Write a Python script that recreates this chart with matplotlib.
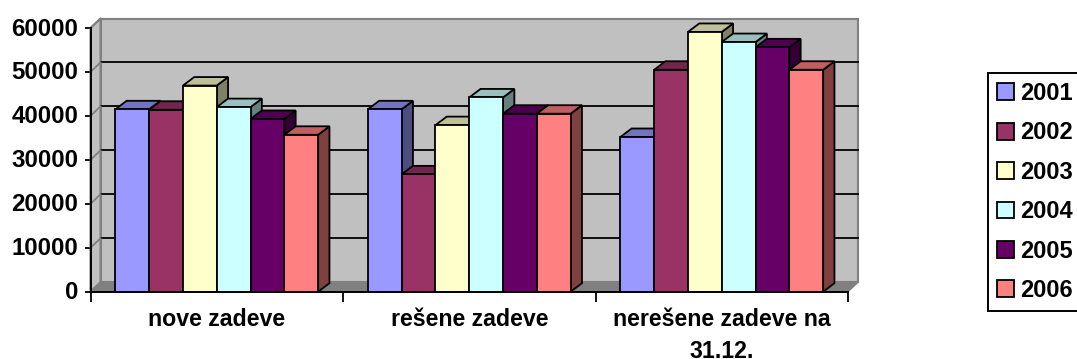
import numpy as np
import matplotlib
matplotlib.use("Agg")
import matplotlib.pyplot as plt
from matplotlib.transforms import ScaledTranslation

plt.rcParams['font.family'] = ['Liberation Sans', 'DejaVu Sans']
plt.rcParams['font.weight'] = 'bold'

categories = ["nove zadeve", "rešene zadeve", "nerešene zadeve na\n31.12."]
years = ["2001", "2002", "2003", "2004", "2005", "2006"]

v2001 = [41500, 41500, 35200]
v2002 = [41400, 26700, 50500]
v2003 = [46900, 37900, 59100]
v2004 = [42000, 44200, 56800]
v2005 = [39300, 40500, 55600]
v2006 = [35700, 40500, 50500]
series = [v2001, v2002, v2003, v2004, v2005, v2006]

colors = ["#9999FF", "#993366", "#FFFFCC", "#CCFFFF", "#660066", "#FF8080"]
y_ticks = [0, 10000, 20000, 30000, 40000, 50000, 60000]

fig = plt.figure(figsize=(10.77, 3.59), dpi=100)
# front plane of the 3d box
ax = fig.add_axes([90.5 / 1077, 1 - 291.7 / 359, 757.5 / 1077, 263.7 / 359])
ax.set_xlim(0, 3)
ax.set_ylim(0, 60000)

# depth of the box and of the bars, in data units
wall_dx = 10 * 3 / 757.5
wall_dy = 9.5 * 60000 / 263.7
bar_dx = 11.3 * 3 / 757.5
bar_dy = 8.5 * 60000 / 263.7
bar_w = 33.8 * 3 / 757.5

# walls and floor
ax.fill([wall_dx, 3 + wall_dx, 3 + wall_dx, wall_dx], [wall_dy, wall_dy, 60000 + wall_dy, 60000 + wall_dy],
        facecolor="#C0C0C0", edgecolor="#808080", lw=1.5, clip_on=False, zorder=1)
ax.fill([0, wall_dx, wall_dx, 0], [0, wall_dy, 60000 + wall_dy, 60000],
        facecolor="#C0C0C0", edgecolor="#808080", lw=1.5, clip_on=False, zorder=1)
ax.fill([0, 3, 3 + wall_dx, wall_dx], [0, 0, wall_dy, wall_dy],
        facecolor="#808080", edgecolor="#808080", lw=1, clip_on=False, zorder=1)

for t in y_ticks[1:-1]:
    ax.plot([wall_dx, 3 + wall_dx], [t + wall_dy, t + wall_dy], color="black", lw=1.3, clip_on=False, zorder=2)
for t in y_ticks[1:]:
    ax.plot([0, wall_dx], [t, t + wall_dy], color="#808080", lw=1.3, clip_on=False, zorder=2)

# bars, left to right so every bar covers the side of the one before
z = 3
for g in range(len(categories)):
    left = g + 0.5 - 3 * bar_w
    for s in range(len(years)):
        x = left + s * bar_w
        h = series[s][g]
        c = np.array(matplotlib.colors.to_rgb(colors[s]))
        ax.fill([x + bar_w, x + bar_w + bar_dx, x + bar_w + bar_dx, x + bar_w],
                [0, bar_dy, h + bar_dy, h],
                facecolor=c * 0.5, edgecolor="black", lw=1.3, clip_on=False, zorder=z)
        ax.fill([x, x + bar_dx, x + bar_w + bar_dx, x + bar_w],
                [h, h + bar_dy, h + bar_dy, h],
                facecolor=c * 0.75, edgecolor="black", lw=1.3, clip_on=False, zorder=z)
        ax.bar(x, h, width=bar_w, align="edge", color=colors[s], edgecolor="black", lw=1.3,
               clip_on=False, zorder=z + 0.5, label=years[s] if g == 0 else None)
        z += 1

for side in ["top", "right"]:
    ax.spines[side].set_visible(False)
for side in ["left", "bottom"]:
    ax.spines[side].set_linewidth(1.4)
    ax.spines[side].set_zorder(100)
ax.patch.set_visible(False)

ax.set_yticks(y_ticks)
ax.set_yticklabels([str(t) for t in y_ticks], fontsize=17.3, fontweight="bold")
ax.tick_params(axis="y", length=4, width=1.3, pad=5)
# labels sit a little above their ticks
for lab in ax.get_yticklabels():
    lab.set_transform(lab.get_transform() + ScaledTranslation(0, 1.5 / 100, fig.dpi_scale_trans))

ax.set_xticks([0, 1, 2, 3])
ax.set_xticklabels([])
ax.tick_params(axis="x", which="major", length=7, width=1.3)
ax.set_xticks([0.5, 1.5, 2.5], minor=True)
ax.set_xticklabels(categories, minor=True, fontsize=16.7, fontweight="bold", linespacing=1.5)
ax.tick_params(axis="x", which="minor", length=0, pad=11.5)

leg = ax.legend(loc="upper left", bbox_to_anchor=(988 / 1077, 1 - 72.5 / 359), bbox_transform=fig.transFigure,
                borderaxespad=0, fancybox=False, framealpha=1, edgecolor="black",
                fontsize=17, handlelength=0.72, handleheight=0.72, handletextpad=0.23,
                labelspacing=0.695, borderpad=0.4)
leg.get_frame().set_linewidth(1.4)
for txt in leg.get_texts():
    txt.set_fontweight("bold")

fig.savefig("out.png", dpi=100)
